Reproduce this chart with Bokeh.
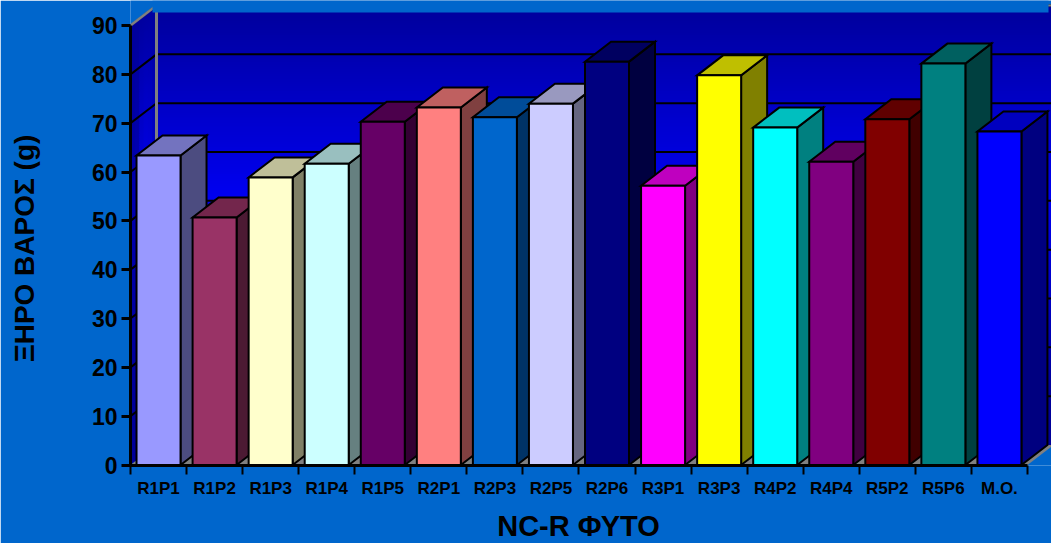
from math import pi

from bokeh.embed import file_html
from bokeh.models import FixedTicker, Label, Range1d
from bokeh.plotting import figure
from bokeh.resources import INLINE

# Dry mass per plant, with the mean as the last column
plants = ["R1P1", "R1P2", "R1P3", "R1P4", "R1P5", "R2P1", "R2P3", "R2P5",
          "R2P6", "R3P1", "R3P3", "R4P2", "R4P4", "R5P2", "R5P6", "M.O."]
dry_mass = [63.4, 50.7, 58.9, 61.7, 70.3, 73.2, 71.2, 74.0,
            82.6, 57.2, 79.8, 69.1, 62.1, 70.8, 82.2, 68.3]
bar_colors = ["#9999FF", "#993366", "#FFFFCC", "#CCFFFF", "#660066", "#FF8080",
              "#0066CC", "#CCCCFF", "#000080", "#FF00FF", "#FFFF00", "#00FFFF",
              "#800080", "#800000", "#008080", "#0000FF"]
value_ticks = list(range(0, 100, 10))

BACKGROUND = "#0066CC"
FLOOR = "#808080"
PX_PER_UNIT = 4.883
PX_PER_CAT = 56.06
FRAME_W, FRAME_H = 921, 465
DEPTH_X = 26 / PX_PER_CAT
DEPTH_Y = 20 / PX_PER_UNIT
BAR_W = 44 / PX_PER_CAT
Y_FLOOR = -0.5 / PX_PER_UNIT
N = len(plants)
# Brightness of each column of the side wall, from its front edge to its back edge
SIDE_COLUMNS = [0.25, 0.35, 0.9, 1.0, 0.95, 0.7]


def shade(color, factor):
    channels = [int(color[i:i + 2], 16) for i in (1, 3, 5)]
    return "#%02X%02X%02X" % tuple(round(c * factor) for c in channels)


def wall_color(v, k=1.0):
    """Wall blue: dark at the top, brightest around the value 55."""
    t = max(0.0, 1 - abs(v - 55) / 40)
    return "#0000%02X" % round(0x99 + k * t * (0xF0 - 0x99))


p = figure(width=1051, height=543, output_backend="svg", toolbar_location=None,
           x_range=Range1d(0, FRAME_W / PX_PER_CAT),
           y_range=Range1d(Y_FLOOR, Y_FLOOR + FRAME_H / PX_PER_UNIT),
           min_border_left=130, min_border_right=0, min_border_top=0, min_border_bottom=78,
           background_fill_color=BACKGROUND, border_fill_color=BACKGROUND,
           outline_line_color=None)
p.grid.visible = False

# Back wall and side wall are painted bottom-up in overlapping bands to give the blue gradient
steps = [i * 0.5 for i in range(0, 180)]
col_w = DEPTH_X / len(SIDE_COLUMNS)
for v in steps:
    c = wall_color(v + 0.25 + DEPTH_Y)
    p.quad(left=DEPTH_X, right=N + DEPTH_X, bottom=v + DEPTH_Y, top=min(v + 1, 90) + DEPTH_Y,
           fill_color=c, line_color=None)
    for j, k in enumerate(SIDE_COLUMNS):
        c = wall_color(v + 0.25 + DEPTH_Y / 2, k)
        xa0, xa1 = j * col_w, (j + 1) * col_w + (0.01 if j < len(SIDE_COLUMNS) - 1 else 0)
        ya0, ya1 = v + xa0 / DEPTH_X * DEPTH_Y, v + xa1 / DEPTH_X * DEPTH_Y
        h = min(v + 1, 90) - v
        p.patch([xa0, xa1, xa1, xa0], [ya0, ya1, ya1 + h, ya0 + h],
                fill_color=c, line_color=None)

# Floor
p.patch([0, N, N + DEPTH_X, DEPTH_X], [0, 0, DEPTH_Y, DEPTH_Y],
        fill_color=FLOOR, line_color=None)

# Gridlines run along the side wall and across the back wall
for v in value_ticks[1:]:
    p.line([0, DEPTH_X], [v, v + DEPTH_Y], line_color="black", line_width=2)
    p.line([DEPTH_X, N + DEPTH_X], [v + DEPTH_Y, v + DEPTH_Y], line_color="black", line_width=2)

# Grey wall edges
p.line([DEPTH_X, DEPTH_X], [DEPTH_Y, 90 + DEPTH_Y], line_color=FLOOR, line_width=3)
p.line([0, DEPTH_X], [90, 90 + DEPTH_Y], line_color=FLOOR, line_width=2.5)
p.line([DEPTH_X, N + DEPTH_X], [90 + DEPTH_Y, 90 + DEPTH_Y], line_color=FLOOR, line_width=2)

# The band along the top edge of the page hides the upper part of the back wall
band_bottom = Y_FLOOR + (FRAME_H - 12) / PX_PER_UNIT
p.quad(left=22 / PX_PER_CAT, right=918 / PX_PER_CAT, bottom=band_bottom,
       top=Y_FLOOR + FRAME_H / PX_PER_UNIT, fill_color=BACKGROUND, line_color=None)

# Boxes are painted left to right so each one overlaps its neighbour's side face
for i, (val, col) in enumerate(zip(dry_mass, bar_colors)):
    x0 = i + (1 - BAR_W) / 2
    x1 = x0 + BAR_W
    p.patch([x1, x1 + DEPTH_X, x1 + DEPTH_X, x1], [0, DEPTH_Y, val + DEPTH_Y, val],
            fill_color=shade(col, 0.5), line_color="black", line_width=2, line_join="miter")
    p.patch([x0, x1, x1 + DEPTH_X, x0 + DEPTH_X], [val, val, val + DEPTH_Y, val + DEPTH_Y],
            fill_color=shade(col, 0.75), line_color="black", line_width=2, line_join="miter")
    p.quad(left=x0, right=x1, bottom=0, top=val,
           fill_color=col, line_color="black", line_width=2)

# Value axis
ya = p.yaxis[0]
ya.ticker = FixedTicker(ticks=value_ticks)
ya.bounds = (0, 90)
ya.axis_line_color = "black"
ya.axis_line_width = 3
ya.major_tick_line_color = "black"
ya.major_tick_line_width = 3
ya.major_tick_in = 0
ya.major_tick_out = 9
ya.minor_tick_line_color = None
ya.major_label_text_font = "Liberation Sans"
ya.major_label_text_font_style = "bold"
ya.major_label_text_font_size = "23px"
ya.major_label_text_color = "black"
ya.major_label_standoff = 4

# Category axis: labels sit on bar centres, tick marks on the category borders
xa = p.xaxis[0]
centres = [i + 0.5 for i in range(N)]
xa.ticker = FixedTicker(ticks=centres, minor_ticks=list(range(N + 1)))
xa.major_label_overrides = dict(zip(centres, plants))
xa.bounds = (0, N)
xa.axis_line_color = "black"
xa.axis_line_width = 3
xa.major_tick_line_color = None
xa.major_tick_in = 0
xa.major_tick_out = 0
xa.minor_tick_line_color = "black"
xa.minor_tick_line_width = 2
xa.minor_tick_in = 0
xa.minor_tick_out = 9
xa.major_label_text_font = "Liberation Sans"
xa.major_label_text_font_style = "bold"
xa.major_label_text_font_size = "17px"
xa.major_label_text_color = "black"
xa.major_label_standoff = 4

# Axis titles live in the side panels
p.add_layout(Label(x=-33, y=217, x_units="screen", y_units="screen", angle=pi / 2,
                   text="ΞΗΡΟ ΒΑΡΟΣ (g)", text_align="center", text_baseline="middle",
                   text_font="Liberation Sans", text_font_style="bold",
                   text_font_size="28px", text_color="black"), "left")
p.add_layout(Label(x=448, y=7, x_units="screen", y_units="screen",
                   text="NC-R ΦΥΤΟ", text_align="center", text_baseline="middle",
                   text_font="Liberation Sans", text_font_style="bold",
                   text_font_size="29px", text_color="black"), "below")

open("out.html", "w").write(file_html(p, INLINE))
